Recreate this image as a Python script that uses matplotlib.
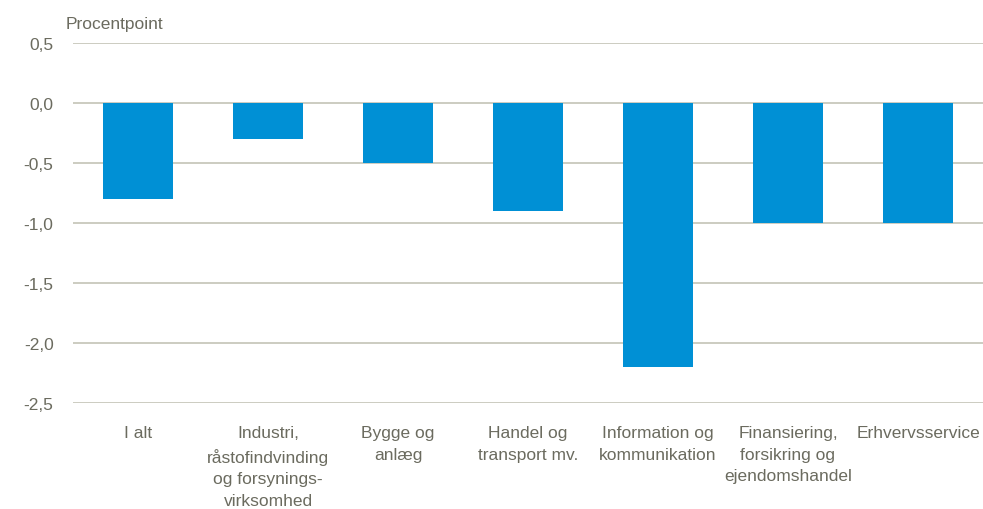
import matplotlib
matplotlib.use("Agg")
import matplotlib.pyplot as plt
import numpy as np

plt.rcParams['font.family'] = ['Liberation Sans', 'DejaVu Sans']

categories = ["I alt", "Industri,\nråstofindvinding\nog forsynings-\nvirksomhed", "Bygge og\nanlæg",
              "Handel og\ntransport mv.", "Information og\nkommunikation",
              "Finansiering,\nforsikring og\nejendomshandel", "Erhvervsservice"]
values = [-0.8, -0.3, -0.5, -0.9, -2.2, -1.0, -1.0]
yticks = [0.5, 0.0, -0.5, -1.0, -1.5, -2.0, -2.5]
ylabel = "Procentpoint"

text_color = '#6b6b5f'
grid_color = '#c8c8bc'
bar_color = '#0090d5'

fig = plt.figure(figsize=(9.83, 5.10), dpi=100)
ax = fig.add_axes([73/983, 1-404/510, 1-73/983, 360/510])

x = np.arange(len(categories))
ax.bar(x, values, width=0.54, color=bar_color, zorder=3)
ax.set_xlim(-0.5, len(categories)-0.5)
ax.set_ylim(-2.5, 0.5)
ax.set_yticks(yticks)
ax.set_yticklabels([f"{v:.1f}".replace('.', ',') for v in yticks])
ax.yaxis.grid(True, color=grid_color, linewidth=1.3, zorder=0)
for s in ax.spines.values():
    s.set_visible(False)
ax.tick_params(axis='both', length=0, labelsize=12.5, colors=text_color)
ax.tick_params(axis='y', pad=14)
ax.set_xticks(x)
ax.set_xticklabels(categories, linespacing=1.55)
ax.tick_params(axis='x', pad=16)

fig.text(66/983, 1-25/510, ylabel, fontsize=12.5, color=text_color, va='center', ha='left')

fig.savefig("out.png", dpi=100)
